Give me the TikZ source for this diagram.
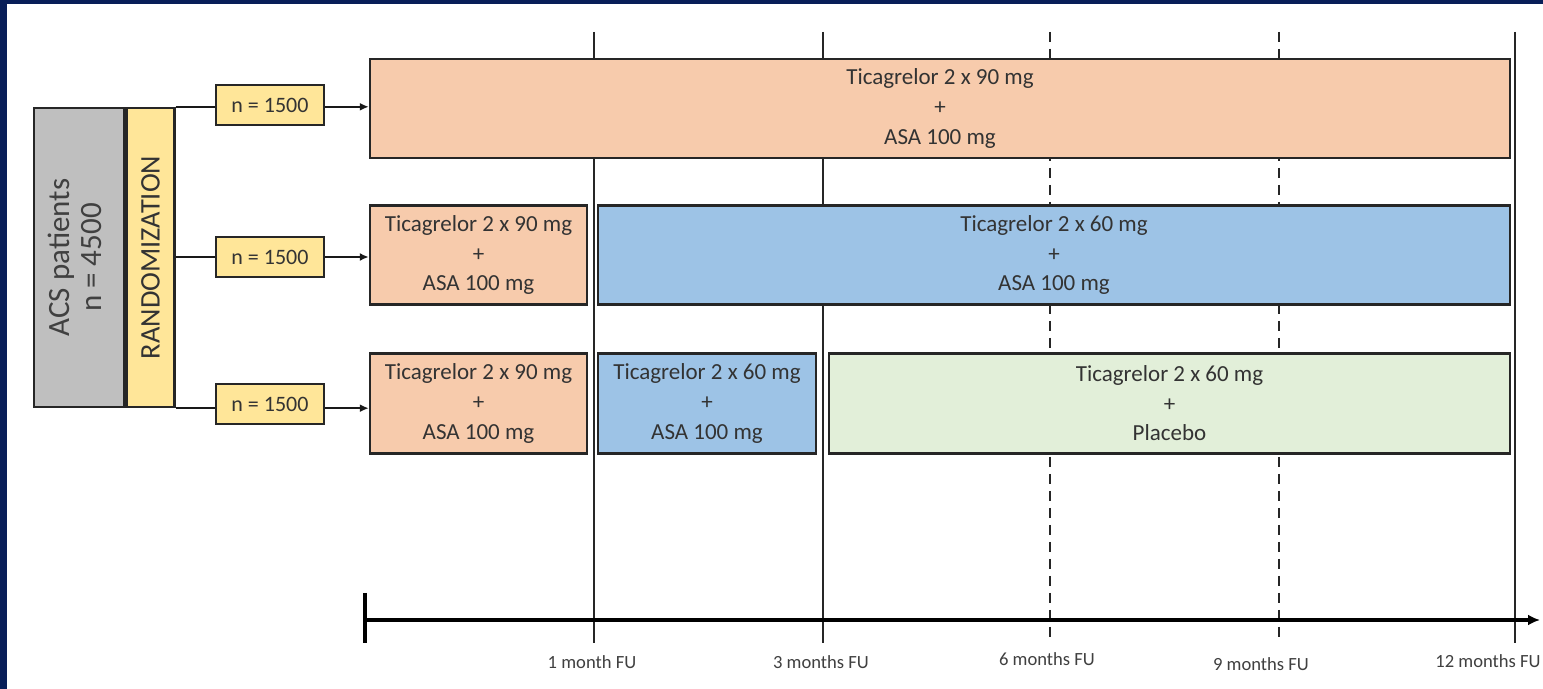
\documentclass[tikz,border=0pt]{standalone}
\usepackage{fontspec}
\setmainfont{Carlito}
\usetikzlibrary{positioning,arrows.meta}

\definecolor{navy}{RGB}{8,30,88}
\definecolor{peach}{RGB}{247,203,172}
\definecolor{skyblue}{RGB}{157,195,230}
\definecolor{palegreen}{RGB}{226,239,217}
\definecolor{butter}{RGB}{255,230,153}
\definecolor{stone}{RGB}{191,191,191}

\tikzset{
  arm/.style={draw=black!85,line width=1.2pt,align=center,inner sep=0pt,
    text=black!80,font=\fontsize{11.5}{14.8}\selectfont},
  high/.style={arm,fill=peach},
  low/.style={arm,fill=skyblue},
  plac/.style={arm,fill=palegreen},
  nbox/.style={arm,fill=butter,minimum width=54pt,minimum height=20pt,
    font=\fontsize{11}{13}\selectfont},
  fu/.style={text=black!75,font=\fontsize{9.3}{11}\selectfont,inner sep=0pt},
  tline/.style={line width=1.4pt,black!85},
  branch/.style={line width=1.1pt,black!90},
}

\begin{document}
\begin{tikzpicture}[x=0.5pt,y=-0.5pt,>={Latex[length=4.5pt,width=4pt]}]
\useasboundingbox (0,0) rectangle (1543,689);
\fill[white] (-10,-10) rectangle (1560,700);
\fill[navy] (-10,-10) rectangle (1560,4);
\fill[navy] (-10,-10) rectangle (7,700);

% follow-up lines, drawn under the arms
\foreach \x in {594,823,1515}
  \draw[tline] (\x,32) -- (\x,643);
\foreach \x in {1050,1279}
  \draw[tline,dash pattern=on 5pt off 3.5pt] (\x,32) -- (\x,643);

% time axis
\coordinate (t0) at (365,620);
\coordinate (tend) at (1540,620);
\draw[line width=1.6pt,-{Latex[length=6pt,width=5.5pt]}] (t0) -- (tend);
\draw[line width=1.6pt] (365,593) -- (365,643);
\node[fu] (fu1) at (592,662) {1 month FU};
\node[fu] (fu3) at (821,662) {3 months FU};
\node[fu] (fu6) at (1047,659) {6 months FU};
\node[fu] (fu9) at (1261,664) {9 months FU};
\node[fu] (fu12) at (1488,661) {12 months FU};

% patients and randomization
\node[arm,fill=stone,minimum width=45pt,minimum height=149.5pt,
  text=black!75,font=\fontsize{15.5}{15}\selectfont]
  (acs) at (79,257.5) {\rotatebox{90}{\begin{tabular}{@{}c@{}}ACS patients\\[1pt] n = 4500\end{tabular}}};
\node[arm,fill=butter,minimum width=24pt,minimum height=149.5pt,
  right=0pt of acs,font=\fontsize{14.2}{16}\selectfont]
  (rand) {\rotatebox{90}{RANDOMIZATION}};

\node[nbox] (n1) at (270,105) {n = 1500};
\node[nbox] (n2) at (270,257) {n = 1500};
\node[nbox] (n3) at (270,404) {n = 1500};

% treatment arms
\node[high,minimum width=570pt,minimum height=49.5pt] (a1) at (940,108.5)
  {Ticagrelor 2 x 90 mg\\+\\ASA 100 mg};
\node[high,minimum width=108.5pt,minimum height=49.5pt] (b1) at (478.5,255)
  {Ticagrelor 2 x 90 mg\\+\\ASA 100 mg};
\node[low,minimum width=456pt,minimum height=49.5pt] (b2) at (1054,255)
  {Ticagrelor 2 x 60 mg\\+\\ASA 100 mg};
\node[high,minimum width=108.5pt,minimum height=50pt] (c1) at (478.5,403.5)
  {Ticagrelor 2 x 90 mg\\+\\ASA 100 mg};
\node[low,minimum width=109pt,minimum height=50pt] (c2) at (707,403.5)
  {Ticagrelor 2 x 60 mg\\+\\ASA 100 mg};
\node[plac,minimum width=340.5pt,minimum height=50pt] (c3) at (1169.5,403.5)
  {Ticagrelor 2 x 60 mg\\+\\Placebo};

% branches
\draw[branch] (rand.north east) -- (rand.north east -| n1.west);
\draw[branch] (rand.east |- n2) -- (n2.west);
\draw[branch] (rand.south east) -- (rand.south east -| n3.west);
\draw[branch,->] (rand.north east -| n1.east) -- (rand.north east -| a1.west);
\draw[branch,->] (n2.east) -- (n2.east -| b1.west);
\draw[branch,->] (rand.south east -| n3.east) -- (rand.south east -| c1.west);
\end{tikzpicture}
\end{document}
